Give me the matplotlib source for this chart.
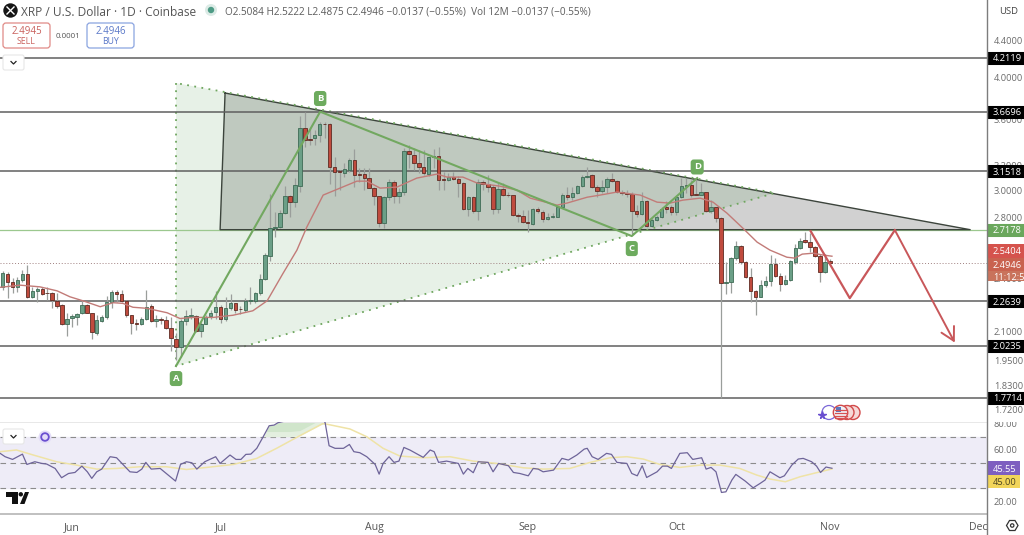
import matplotlib
matplotlib.use('Agg')
import matplotlib.pyplot as plt
import numpy as np
from matplotlib.patches import Rectangle, FancyBboxPatch, Circle, Polygon

plt.rcParams['font.family'] = ['Open Sans', 'DejaVu Sans']

# days counted from 1 June, one candle per day
days = np.arange(-14, 154)
opens = [2.350,2.427,2.380,2.350,2.390,2.427,2.291,2.326,2.338,2.314,
         2.314,2.268,2.243,2.136,2.171,2.178,2.197,2.242,2.197,2.091,
         2.155,2.174,2.262,2.318,2.305,2.268,2.186,2.144,2.137,2.163,
         2.236,2.155,2.166,2.159,2.114,2.059,2.014,2.157,2.181,2.181,
         2.101,2.139,2.181,2.204,2.234,2.168,2.228,2.253,2.222,2.215,
         2.268,2.265,2.311,2.396,2.544,2.732,2.735,2.835,2.960,2.915,
         3.036,3.519,3.419,3.432,3.458,3.561,3.556,3.187,3.155,3.139,
         3.163,3.244,3.134,3.131,3.099,3.021,2.960,2.764,2.952,3.067,
         2.960,2.991,3.319,3.286,3.219,3.187,3.131,3.268,3.276,3.091,
         3.083,3.107,3.091,3.060,2.864,2.952,2.849,3.067,3.052,3.029,
         2.864,3.014,2.971,2.968,2.820,2.813,2.771,2.757,2.864,2.842,
         2.792,2.806,2.806,2.878,2.968,2.952,2.983,3.036,3.107,3.123,
         3.029,2.998,3.029,3.091,3.075,2.991,2.983,2.976,2.849,2.828,
         2.923,2.743,2.785,2.806,2.878,2.878,2.842,2.952,3.036,3.044,
         2.976,2.968,2.991,2.849,2.878,2.799,2.372,2.378,2.528,2.606,
         2.503,2.409,2.324,2.289,2.360,2.384,2.490,2.415,2.366,2.390,
         2.503,2.593,2.647,2.633,2.599,2.541,2.440,2.5084]
closes = [2.432,2.380,2.350,2.390,2.427,2.291,2.326,2.338,2.307,2.311,
          2.272,2.238,2.136,2.168,2.181,2.193,2.243,2.200,2.093,2.159,
          2.174,2.262,2.318,2.307,2.266,2.186,2.144,2.137,2.163,2.234,
          2.155,2.166,2.161,2.116,2.061,2.014,2.155,2.183,2.186,2.101,
          2.137,2.178,2.200,2.234,2.168,2.228,2.253,2.215,2.219,2.268,
          2.272,2.311,2.400,2.548,2.729,2.738,2.835,2.960,2.915,3.044,
          3.519,3.414,3.414,3.458,3.556,3.556,3.187,3.147,3.147,3.171,
          3.244,3.123,3.126,3.099,3.021,2.960,2.764,2.952,3.067,2.960,
          2.991,3.319,3.294,3.219,3.187,3.139,3.268,3.276,3.083,3.083,
          3.107,3.091,3.060,2.864,2.952,2.849,3.067,3.052,3.029,2.864,
          3.014,2.968,2.968,2.820,2.813,2.771,2.764,2.864,2.849,2.792,
          2.806,2.813,2.878,2.968,2.952,2.983,3.036,3.107,3.115,3.029,
          2.998,3.029,3.091,3.075,2.991,2.983,2.976,2.849,2.828,2.923,
          2.743,2.785,2.806,2.864,2.864,2.842,2.952,3.036,3.044,2.968,
          2.968,2.991,2.849,2.878,2.799,2.372,2.378,2.528,2.606,2.503,
          2.409,2.324,2.289,2.360,2.384,2.490,2.415,2.366,2.390,2.509,
          2.593,2.640,2.633,2.599,2.541,2.440,2.503,2.4946]
highs = [2.448,2.441,2.406,2.410,2.452,2.483,2.350,2.346,2.350,2.350,
         2.320,2.311,2.249,2.200,2.193,2.200,2.272,2.249,2.200,2.186,
         2.186,2.295,2.330,2.330,2.330,2.272,2.190,2.168,2.174,2.334,
         2.249,2.186,2.178,2.181,2.174,2.091,2.168,2.215,2.228,2.186,
         2.150,2.186,2.215,2.324,2.243,2.291,2.307,2.257,2.238,2.282,
         2.350,2.320,2.427,2.562,2.976,2.842,2.856,3.036,2.968,3.098,
         3.628,3.666,3.519,3.502,3.574,3.574,3.565,3.268,3.163,3.219,
         3.260,3.336,3.179,3.179,3.179,3.029,2.960,2.960,3.091,3.083,
         3.021,3.345,3.371,3.345,3.328,3.328,3.268,3.336,3.353,3.147,
         3.139,3.147,3.115,3.067,2.960,2.960,3.091,3.083,3.123,3.044,
         3.060,3.060,2.991,2.968,2.835,2.856,2.856,2.871,2.878,2.856,
         2.835,2.835,2.893,2.983,3.029,3.029,3.044,3.123,3.187,3.131,
         3.044,3.083,3.107,3.139,3.083,3.006,3.006,2.991,2.893,2.991,
         2.930,2.799,2.820,2.878,2.923,2.893,2.952,3.098,3.098,3.083,
         3.083,3.060,2.991,2.930,2.878,2.806,2.503,2.535,2.640,2.613,
         2.509,2.465,2.330,2.390,2.415,2.548,2.528,2.434,2.421,2.515,
         2.620,2.660,2.701,2.694,2.606,2.554,2.554,2.5222]
lows = [2.334,2.282,2.311,2.320,2.380,2.282,2.287,2.262,2.301,2.272,
        2.225,2.225,2.132,2.074,2.122,2.132,2.193,2.197,2.056,2.079,
        2.150,2.163,2.225,2.262,2.262,2.174,2.082,2.105,2.133,2.159,
        2.150,2.119,2.137,2.109,1.997,1.950,1.966,2.132,2.163,2.096,
        2.066,2.136,2.168,2.163,2.144,2.155,2.215,2.197,2.193,2.206,
        2.249,2.253,2.301,2.390,2.510,2.667,2.729,2.828,2.806,2.879,
        2.991,3.353,3.370,3.370,3.397,3.432,3.052,2.960,3.006,3.107,
        3.149,3.029,3.067,3.006,3.021,2.893,2.736,2.729,2.930,2.908,
        2.908,2.968,3.179,3.163,3.139,3.123,3.115,3.179,3.006,3.006,
        3.075,3.083,2.952,2.856,2.813,2.835,2.785,3.006,2.991,2.828,
        2.835,2.960,2.952,2.813,2.771,2.764,2.701,2.750,2.835,2.771,
        2.785,2.799,2.806,2.871,2.930,2.930,2.976,3.029,3.099,3.021,
        2.952,2.983,2.983,3.067,2.983,2.968,2.952,2.681,2.806,2.820,
        2.736,2.736,2.778,2.799,2.835,2.820,2.820,2.945,2.983,2.952,
        2.968,2.968,2.842,2.835,2.771,1.771,2.307,2.311,2.515,2.490,
        2.403,2.261,2.186,2.289,2.350,2.354,2.409,2.324,2.360,2.384,
        2.490,2.586,2.626,2.567,2.535,2.378,2.434,2.4875]

ma_days = [-14.5,-10.5,-6.5,-3,-0.4,2.2,5.7,8.3,10.3,12.3,15.1,19.2,21.8,24.4,28.5,32.5,36.5,39.4,42.6,45.4,
           47.4,50.7,54.1,57.5,59.5,62.2,65.6,69.6,73.7,75.7,78.9,81.8,86.4,89.8,92.5,97.9,99.9,104,106.6,110,
           114.7,118.1,120.7,123.3,126.8,129.4,132.2,135.4,138.3,140.9,144.3,145.9,147.4,149.6,151.6,153.4]
ma_values = [2.347,2.360,2.350,2.326,2.291,2.268,2.234,2.257,2.253,2.231,2.225,2.200,2.168,2.174,2.174,2.186,2.211,2.268,2.432,2.580,
             2.736,2.968,3.021,3.075,3.075,3.021,3.029,3.099,3.131,3.107,3.107,3.060,3.036,3.006,2.945,2.893,2.908,2.952,2.968,2.991,
             2.968,2.915,2.908,2.930,2.945,2.915,2.835,2.729,2.633,2.580,2.534,2.528,2.554,2.560,2.548,2.5404]

rsi_days = [-14.5,-13.5,-12,-10,-9.1,-7.5,-6.1,-5.1,-3.4,-2.1,-0.7,0.6,2,3.1,4,5,6,7.7,9,10.4,11.7,13.1,14.1,14.9,16,17.8,19.4,20.9,21.9,23.1,
            24.2,25.2,26.8,29,29.9,31.9,33.1,34.1,35.1,36.1,37.3,38.6,39.8,40.8,41.6,44,46,47,48,50.2,51.1,51.9,53.1,54.8,56,56.9,58.1,59.5,61.2,62,
            62.8,64,65,66,67,68.2,70.9,72.3,73.1,74,75.6,78,79,79.9,81,82,84,85,86.1,88.1,89.1,90.4,92.1,93.1,94.1,95.1,97.2,98.9,100.2,101.9,
            103.4,104,105,106.2,107.9,108.9,110,112,113,114.1,115.1,116,118.1,119.2,120.2,121,122.7,124.2,125.3,127.1,128,129,130,131.1,132,133.2,134,135.9,137.5,138.9,
            139.9,140.9,142.9,143.8,145.3,146.6,147.6,149.3,150.3,151.1,152.2,153.4]
rsi_values = [57.1,54.5,52.4,56.5,48.5,50.6,49.3,48.8,45.4,38.2,41.5,42.3,47.2,42.8,37.7,42.8,44.9,54.5,53.7,48.0,42.8,42.3,44.9,50.1,44.9,45.4,40.3,35.6,48.5,50.6,
              49.8,44.9,50.6,54.5,49.3,55.8,52.4,52.4,56.3,56.5,61,70,78.5,79,80.9,83,87,86,85,86,80.9,63,61,61,64,58.4,57.6,54.5,48.5,41,
              49.3,54.5,50.1,51.1,61.7,59.7,54,59.7,58.4,50.1,51.1,49.3,41,45.4,42.1,50.6,50.1,42.8,49.3,47.5,42.3,41.5,39.7,45.4,44.9,42.8,44.1,53.2,51.9,55.8,
              60.4,61,54.5,52.4,57.1,56.3,50.1,49.3,41.5,39.7,47.5,38.4,42.8,47.2,47.2,45.4,57.1,57.6,52.4,53.7,44.9,46.2,42.8,26.8,27.3,36.4,40.8,35.6,30.4,33.8,
              36.4,42.8,38.2,39.7,48,52.7,53.2,50.6,47.2,42.3,46.5,45.55]

rsi_ma_days = [-14.5,-11.2,-7.8,-3.1,0.9,5,9,13.7,19.1,23.1,27.2,32.6,37.3,41.3,46,50.7,56.1,59.5,62.8,66.2,70.9,76.3,81,85.7,91.1,95.1,100.5,104.6,108.6,112,115.3,118.7,122.7,126.8,130.8,134.8,138.2,140.9,144,147,151,153.4]
rsi_ma_values = [58.4,59.7,55.8,50.6,48,44.9,45.4,46.7,46.7,44.6,46.2,48.5,53.2,61,70.8,80.3,76,70,61,55,53.7,54.5,51.1,49.3,45.9,44.9,45.4,50.1,53.7,54.5,52.7,48.5,46.2,48,48,45.4,40.3,37.2,35.1,39,42.8,45]

levels = [4.2119, 3.6696, 3.1518, 2.2639, 2.0235, 1.7714]
mid_level = 2.7178
last_price = 2.4946

price_ticks = [4.4, 4.0, 3.6, 3.2, 3.0, 2.8, 2.4, 2.1, 1.95, 1.83, 1.72]
rsi_ticks = [80, 60, 20]
month_days = [0, 30, 61, 92, 122, 153, 183]
month_names = ['Jun', 'Jul', 'Aug', 'Sep', 'Oct', 'Nov', 'Dec']

# drawing shapes on the chart (day, price)
green_tri_days = [21, 21, 141.9]
green_tri_prices = [3.947, 1.921, 2.984]
grey_tri_days = [30.9, 181.3, 29.9]
grey_tri_prices = [3.848, 2.7178, 2.7178]
pattern_days = [21, 50.1, 113, 126.2]
pattern_prices = [1.921, 3.6696, 2.674, 3.099]
pattern_labels = ['A', 'B', 'C', 'D']
path_days = [149.1, 157, 166.1, 178.2]
path_prices = [2.708, 2.283, 2.715, 2.039]

GREEN = '#6b9f87'
RED = '#c04b3e'
TEXT = '#6b6b6b'
AXIS = '#7d7d7d'
SCALE_FS = 6.7

W, H = 1024, 535
fig = plt.figure(figsize=(W / 100, H / 100), dpi=100)
ax = fig.add_axes([0, 1 - 422 / H, 987 / W, 422 / H])
ax2 = fig.add_axes([0, 1 - 514 / H, 987 / W, 92 / H])

xlim = (-14.53, 184.7)
ax.set_yscale('log')
ax.set_xlim(xlim)
ax.set_ylim(1.666, 4.876)
ax.set_xticks([])
ax.yaxis.tick_right()
ax.set_yticks(price_ticks)
ax.set_yticklabels(['%.4f' % p for p in price_ticks])
ax.minorticks_off()
ax.tick_params(axis='y', length=0, pad=5, labelsize=SCALE_FS, labelcolor=TEXT)
for s in ax.spines.values():
    s.set_visible(False)

# shapes
ax.fill(grey_tri_days, grey_tri_prices, fc='#d1d1d1', ec='none', zorder=1)
ax.fill(green_tri_days, green_tri_prices, fc='#4a9a4a', alpha=0.13, ec='none', zorder=1.1)
ax.plot(grey_tri_days + grey_tri_days[:1], grey_tri_prices + grey_tri_prices[:1], color='#3c443c', lw=1.0, zorder=2)
ax.plot(green_tri_days + green_tri_days[:1], green_tri_prices + green_tri_prices[:1],
        color='#6fa65f', lw=1.3, ls=(0, (1, 3)), zorder=2)
ax.axhline(mid_level, color='#9cc88f', lw=0.9, zorder=1.5)
for lv in levels:
    ax.axhline(lv, color='#5f5f5f', lw=1.1, zorder=2)
ax.axhline(last_price, color='#a08080', lw=0.7, ls=(0, (1, 2)), zorder=2)

# candles
o = np.array(opens)
c = np.array(closes)
up = c >= o
ax.vlines(days, lows, highs, color='#9a9e9b', lw=0.9, zorder=3)
body_top = np.maximum(o, c)
body_bot = np.minimum(o, c)
ax.bar(days[up], (body_top - body_bot)[up], bottom=body_bot[up], width=0.7,
       color=GREEN, edgecolor='#3e6b55', linewidth=0.6, zorder=3.2)
ax.bar(days[~up], (body_top - body_bot)[~up], bottom=body_bot[~up], width=0.7,
       color=RED, edgecolor='#5e2c24', linewidth=0.6, zorder=3.2)
ax.plot(ma_days, ma_values, color='#c27b78', lw=1.0, zorder=4)

# pattern and projected path
ax.plot(pattern_days, pattern_prices, color='#72a860', lw=1.5, zorder=4.5)
ax.plot(path_days[:-1], path_prices[:-1], color='#c8575a', lw=1.6, zorder=4.5)
ax.annotate('', xy=(path_days[-1], path_prices[-1]), xytext=(path_days[-2], path_prices[-2]),
            arrowprops=dict(arrowstyle='->,head_length=0.55,head_width=0.3', color='#c8575a', lw=1.4,
                            mutation_scale=17, shrinkA=0, shrinkB=0), zorder=4.6)
label_offsets = [(0, -9), (0, 9.5), (0, -9), (0, 8)]
for d, p, name, off in zip(pattern_days, pattern_prices, pattern_labels, label_offsets):
    ax.annotate(name, xy=(d, p), xytext=off, textcoords='offset points', ha='center', va='center',
                fontsize=6.8, color='white', fontweight='bold', zorder=6,
                bbox=dict(boxstyle='round,pad=0.32', fc='#6dab5e', ec='none'))

# level tags on the price scale
ytrans = ax.get_yaxis_transform()
for lv in levels:
    ax.plot([1, 1.04], [lv, lv], transform=ytrans, color='black', lw=9.4, solid_capstyle='butt', clip_on=False, zorder=5)
    ax.text(1.006, lv, '%.4f' % lv, transform=ytrans, color='white', fontsize=SCALE_FS, va='center_baseline', clip_on=False, zorder=6)
ax.plot([1, 1.04], [mid_level, mid_level], transform=ytrans, color='#6aa75c', lw=9.4, solid_capstyle='butt', clip_on=False, zorder=5)
ax.text(1.006, mid_level, '%.4f' % mid_level, transform=ytrans, color='white', fontsize=SCALE_FS, va='center_baseline', clip_on=False, zorder=6)

# RSI pane
ax2.set_xlim(xlim)
ax2.set_ylim(10.1, 81.4)
ax2.axhspan(30, 70, color='#eeecf7', zorder=0)
for lv in [70, 50, 30]:
    ax2.axhline(lv, color='#8c8c8c', lw=0.8, ls=(0, (5, 4)), zorder=1)
rsi_arr = np.array(rsi_values)
floor = np.maximum(70, np.interp(rsi_days, rsi_ma_days, rsi_ma_values))
ax2.fill_between(rsi_days, floor, rsi_arr, where=rsi_arr >= floor, interpolate=True, color='#e3efdf', lw=0, zorder=1.5)
ax2.fill_between(rsi_days, floor + 4, rsi_arr, where=rsi_arr >= floor + 4, interpolate=True, color='#d0e5cb', lw=0, zorder=1.6)
ax2.plot(rsi_ma_days, rsi_ma_values, color='#efe3a6', lw=1.1, zorder=2)
ax2.plot(rsi_days, rsi_values, color='#6e6499', lw=0.9, zorder=3)
ax2.yaxis.tick_right()
ax2.set_yticks(rsi_ticks)
ax2.set_yticklabels(['%.2f' % r for r in rsi_ticks])
ax2.set_xticks(month_days)
ax2.set_xticklabels(month_names)
ax2.set_xlim(xlim)
ax2.tick_params(axis='y', length=0, pad=5, labelsize=SCALE_FS, labelcolor=TEXT)
ax2.tick_params(axis='x', length=0, pad=6, labelsize=7.6, labelcolor='#555555')
for s in ax2.spines.values():
    s.set_visible(False)
ax2.spines['top'].set_visible(True)
ax2.spines['top'].set_color('#e8e8e8')
ax2.spines['top'].set_linewidth(0.7)
ax2.spines['bottom'].set_visible(True)
ax2.spines['bottom'].set_color('#b5b5b5')
ax2.spines['bottom'].set_linewidth(1.2)
ax2.patch.set_alpha(0)

# screen furniture, in pixels
ov = fig.add_axes([0, 0, 1, 1], zorder=10)
ov.set_xlim(0, W)
ov.set_ylim(H, 0)
ov.axis('off')
ov.patch.set_alpha(0)

ov.add_patch(Rectangle((988, 415.5), 36, 6.5, fc='white', ec='none'))
ov.add_patch(Rectangle((988, 515), 36, 20, fc='white', ec='none'))
ov.plot([987, 987], [0, 535], color=AXIS, lw=1.0)

def tag(y0, y1, colour, label, x1=1024, tc='white'):
    ov.add_patch(Rectangle((987.5, y0), x1 - 987.5, y1 - y0, fc=colour, ec='none'))
    ov.text(993, (y0 + y1) / 2, label, color=tc, fontsize=SCALE_FS, va='center_baseline')

tag(244, 258, '#d5534d', '2.5404')
tag(258, 271, '#c9624f', '2.4946')
tag(271, 281, '#c9735c', '11:12:5')
tag(461, 475, '#7e5fc0', '45.55', x1=1020)
tag(475, 488, '#f2d55a', '45.00', x1=1020, tc='#4a4320')

# header
ov.add_patch(Circle((10.5, 10.5), 7.2, fc='#151515', ec='none'))
ov.plot([7, 14], [7, 14], color='white', lw=1.0)
ov.plot([7, 14], [14, 7], color='white', lw=1.0)
ov.text(21, 10.5, 'XRP / U.S. Dollar · 1D · Coinbase', color='#555555', fontsize=8.6, va='center_baseline')
ov.add_patch(Circle((211, 10), 6, fc='#dcebe6', ec='none'))
ov.add_patch(Circle((211, 10), 3.2, fc='#4d9b85', ec='none'))
ov.text(225, 10.5, 'O2.5084 H2.5222 L2.4875 C2.4946 −0.0137 (−0.55%)  Vol 12M −0.0137 (−0.55%)',
        color='#5c5c5c', fontsize=7.2, va='center_baseline')
ov.text(999, 11, 'USD', color='#444444', fontsize=6.8, va='center_baseline')

# sell / buy boxes
for x0, col, price, word in [(3, '#e08a86', '2.4945', 'SELL'), (87, '#8aa4e0', '2.4946', 'BUY')]:
    ov.add_patch(FancyBboxPatch((x0, 23), 47, 25, boxstyle='round,pad=0,rounding_size=3', fc='white', ec=col, lw=0.9))
    tc = '#c9605c' if word == 'SELL' else '#5a78c8'
    ov.text(x0 + 23.5, 30.5, price, color=tc, fontsize=7.0, ha='center', va='center_baseline')
    ov.text(x0 + 23.5, 41, word, color=tc, fontsize=6.3, ha='center', va='center_baseline')
ov.text(68, 36, '0.0001', color='#555555', fontsize=5.8, ha='center', va='center_baseline')

# collapse buttons
for y0 in [55, 429]:
    ov.add_patch(FancyBboxPatch((3, y0), 21, 15, boxstyle='round,pad=0,rounding_size=2', fc='white', ec='#e6e6e6', lw=0.8))
    ov.plot([11, 13.5, 16], [y0 + 6.5, y0 + 9, y0 + 6.5], color='#222222', lw=0.9)

# refresh icon
ov.add_patch(Circle((45, 437), 6.5, fc='#e3dcf8', ec='none'))
ov.add_patch(Circle((45, 437), 3.8, fc='none', ec='#6a4fd0', lw=1.3))

# chart logo
ov.add_patch(Polygon([(6, 492), (18, 492), (18, 504), (11.5, 504), (11.5, 497), (6, 497)], fc='#111111', ec='none'))
ov.add_patch(Circle((20.8, 494.3), 2.2, fc='#111111', ec='none'))
ov.add_patch(Polygon([(25, 492), (29, 492), (24.5, 504), (20, 504)], fc='#111111', ec='none'))

# event markers
ov.add_patch(Circle((829, 412.5), 7, fc='white', ec='#7b68d8', lw=0.9))
ov.plot([822], [414.5], marker='*', ms=5.5, color='#6a4fd0')
for cx in [853, 847]:
    ov.add_patch(Circle((cx, 412.5), 7, fc='#f6d9d8', ec='#d24a4a', lw=1.0))
ov.add_patch(Circle((840.5, 412.5), 7.2, fc='#f1f1f5', ec='#d24a4a', lw=1.0))
for yy in [409.5, 412.5, 415.5, 418]:
    ov.plot([834.5, 846.5], [yy, yy], color='#d85050', lw=0.9)
ov.add_patch(Rectangle((835.5, 406.5), 5.5, 5.5, fc='#5a78c0', ec='none'))

# settings icon
ov.add_patch(Polygon([(1006.5, 525.5), (1009.5, 520.5), (1015, 520.5), (1018, 525.5), (1015, 530.5), (1009.5, 530.5)],
                     fc='white', ec='#333333', lw=0.9))
ov.add_patch(Circle((1012.2, 525.5), 1.7, fc='white', ec='#333333', lw=0.9))

fig.savefig('out.png', dpi=100)
